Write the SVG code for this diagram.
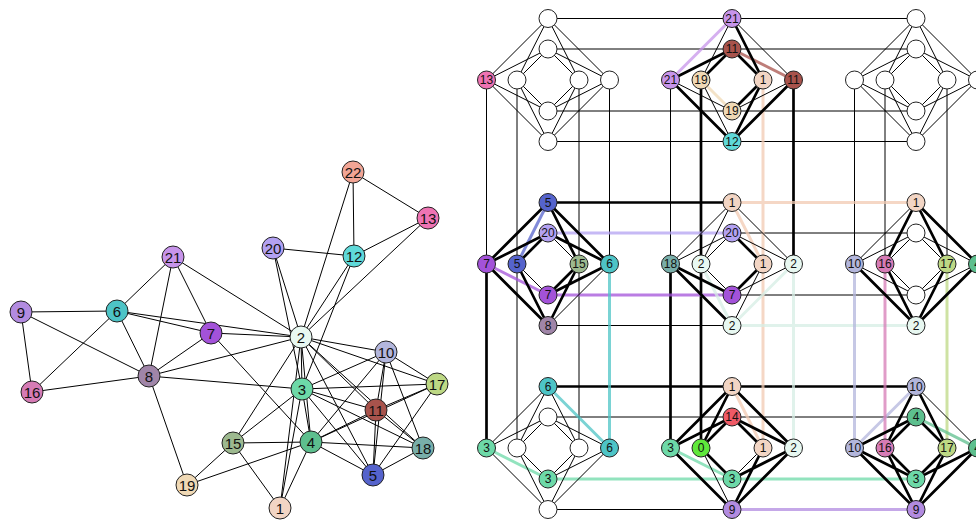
<svg xmlns="http://www.w3.org/2000/svg" width="976" height="521" viewBox="0 0 976 521">
<style>
.e{stroke:#000;stroke-width:1;fill:none}
.k{stroke:#000;stroke-width:2.7;fill:none}
.c{stroke-width:3;stroke-opacity:.75;fill:none}
.nd circle{stroke:#222;stroke-width:1}
.L text{font-family:"Liberation Sans",Arial,sans-serif;font-size:15px;text-anchor:middle;fill:#111}
.R text{font-family:"Liberation Sans",Arial,sans-serif;font-size:12px;text-anchor:middle;fill:#111}
</style>
<rect width="976" height="521" fill="#fff"/>
<g id="left-connectors" class="e">
<line x1="21" y1="312" x2="117" y2="311"/>
<line x1="21" y1="312" x2="32" y2="392"/>
<line x1="21" y1="312" x2="149" y2="376"/>
<line x1="117" y1="311" x2="173" y2="257"/>
<line x1="117" y1="311" x2="32" y2="392"/>
<line x1="117" y1="311" x2="149" y2="376"/>
<line x1="117" y1="311" x2="211" y2="333"/>
<line x1="117" y1="311" x2="301" y2="337"/>
<line x1="173" y1="257" x2="149" y2="376"/>
<line x1="173" y1="257" x2="211" y2="333"/>
<line x1="173" y1="257" x2="301" y2="337"/>
<line x1="211" y1="333" x2="149" y2="376"/>
<line x1="211" y1="333" x2="301" y2="337"/>
<line x1="211" y1="333" x2="311" y2="442"/>
<line x1="149" y1="376" x2="32" y2="392"/>
<line x1="149" y1="376" x2="301" y2="337"/>
<line x1="149" y1="376" x2="302" y2="389"/>
<line x1="149" y1="376" x2="187" y2="485"/>
<line x1="187" y1="485" x2="233" y2="443"/>
<line x1="187" y1="485" x2="311" y2="442"/>
<line x1="233" y1="443" x2="301" y2="337"/>
<line x1="233" y1="443" x2="302" y2="389"/>
<line x1="233" y1="443" x2="311" y2="442"/>
<line x1="233" y1="443" x2="280" y2="508"/>
<line x1="353" y1="172" x2="428" y2="218"/>
<line x1="353" y1="172" x2="354" y2="256"/>
<line x1="353" y1="172" x2="301" y2="337"/>
<line x1="428" y1="218" x2="354" y2="256"/>
<line x1="428" y1="218" x2="301" y2="337"/>
<line x1="273" y1="248" x2="354" y2="256"/>
<line x1="273" y1="248" x2="301" y2="337"/>
<line x1="273" y1="248" x2="302" y2="389"/>
<line x1="354" y1="256" x2="301" y2="337"/>
<line x1="354" y1="256" x2="302" y2="389"/>
<line x1="301" y1="337" x2="386" y2="352"/>
<line x1="301" y1="337" x2="437" y2="384"/>
<line x1="301" y1="337" x2="376" y2="410"/>
<line x1="301" y1="337" x2="423" y2="448"/>
<line x1="301" y1="337" x2="373" y2="475"/>
<line x1="301" y1="337" x2="302" y2="389"/>
<line x1="301" y1="337" x2="311" y2="442"/>
<line x1="301" y1="337" x2="280" y2="508"/>
<line x1="302" y1="389" x2="386" y2="352"/>
<line x1="302" y1="389" x2="437" y2="384"/>
<line x1="302" y1="389" x2="376" y2="410"/>
<line x1="302" y1="389" x2="423" y2="448"/>
<line x1="302" y1="389" x2="373" y2="475"/>
<line x1="302" y1="389" x2="311" y2="442"/>
<line x1="302" y1="389" x2="280" y2="508"/>
<line x1="311" y1="442" x2="386" y2="352"/>
<line x1="311" y1="442" x2="376" y2="410"/>
<line x1="311" y1="442" x2="437" y2="384"/>
<line x1="311" y1="442" x2="423" y2="448"/>
<line x1="311" y1="442" x2="373" y2="475"/>
<line x1="311" y1="442" x2="280" y2="508"/>
<line x1="386" y1="352" x2="376" y2="410"/>
<line x1="386" y1="352" x2="373" y2="475"/>
<line x1="386" y1="352" x2="437" y2="384"/>
<line x1="386" y1="352" x2="423" y2="448"/>
<line x1="376" y1="410" x2="437" y2="384"/>
<line x1="376" y1="410" x2="373" y2="475"/>
<line x1="376" y1="410" x2="423" y2="448"/>
<line x1="437" y1="384" x2="373" y2="475"/>
<line x1="423" y1="448" x2="373" y2="475"/>
</g>
<g id="left-nodes" class="nd L">
<g id="n9"><circle cx="21" cy="312" r="11" fill="#b28be0"/><text x="21" y="317.5">9</text></g>
<g id="n6"><circle cx="117" cy="311" r="11" fill="#4dc4c6"/><text x="117" y="316.5">6</text></g>
<g id="n21"><circle cx="173" cy="257" r="11" fill="#c794ea"/><text x="173" y="262.5">21</text></g>
<g id="n7"><circle cx="211" cy="333" r="11" fill="#a352d9"/><text x="211" y="338.5">7</text></g>
<g id="n8"><circle cx="149" cy="376" r="11" fill="#a085a8"/><text x="149" y="381.5">8</text></g>
<g id="n16"><circle cx="32" cy="392" r="11" fill="#d67bb5"/><text x="32" y="397.5">16</text></g>
<g id="n19"><circle cx="187" cy="485" r="11" fill="#f0d9b5"/><text x="187" y="490.5">19</text></g>
<g id="n15"><circle cx="233" cy="443" r="11" fill="#9db98f"/><text x="233" y="448.5">15</text></g>
<g id="n22"><circle cx="353" cy="172" r="11" fill="#f2a595"/><text x="353" y="177.5">22</text></g>
<g id="n13"><circle cx="428" cy="218" r="11" fill="#ef73b3"/><text x="428" y="223.5">13</text></g>
<g id="n20"><circle cx="273" cy="248" r="11" fill="#b3a1f2"/><text x="273" y="253.5">20</text></g>
<g id="n12"><circle cx="354" cy="256" r="11" fill="#5fd9d9"/><text x="354" y="261.5">12</text></g>
<g id="n2"><circle cx="301" cy="337" r="11" fill="#e8f8f1"/><text x="301" y="342.5">2</text></g>
<g id="n10"><circle cx="386" cy="352" r="11" fill="#b3b6dc"/><text x="386" y="357.5">10</text></g>
<g id="n17"><circle cx="437" cy="384" r="11" fill="#bdd884"/><text x="437" y="389.5">17</text></g>
<g id="n3"><circle cx="302" cy="389" r="11" fill="#6dd9a8"/><text x="302" y="394.5">3</text></g>
<g id="n11"><circle cx="376" cy="410" r="11" fill="#a8534c"/><text x="376" y="415.5">11</text></g>
<g id="n4"><circle cx="311" cy="442" r="11" fill="#5dbf8e"/><text x="311" y="447.5">4</text></g>
<g id="n18"><circle cx="423" cy="448" r="11" fill="#78aea9"/><text x="423" y="453.5">18</text></g>
<g id="n5"><circle cx="373" cy="475" r="11" fill="#5563cc"/><text x="373" y="480.5">5</text></g>
<g id="n1"><circle cx="280" cy="508" r="11" fill="#f2d5c4"/><text x="280" y="513.5">1</text></g>
</g>
<g id="right-connectors">
<path class="e" d="M548 18.5H916M548 49H916M548 111H916M548 141.5H916M732 233H916M732 295H916M548 325.5H732M548 417H916M548 509.5H732M486.5 80V264M517 80V448M579 80V448M609.5 80V264M670.5 80V264M854.5 80V264M885 80V264M947 80V264M977.5 80V264"/>
<path class="k" d="M548 202.5H732M548 386.5H916M486.5 264V448M670.5 264V448M701 80V448M793.5 80V264"/>
<path class="c" stroke="#f2c9b2" d="M732 202.5H916M763 80V448M732 202.5L763 264M732 386.5L763 448"/>
<path class="c" stroke="#b3a1f2" d="M548 233H732"/>
<path class="c" stroke="#a352d9" d="M548 295H732M548 295L486.5 264"/>
<path class="c" stroke="#d6eee4" d="M732 325.5H916M793.5 264V448M732 325.5L701 264M732 325.5L793.5 264"/>
<path class="c" stroke="#6dd9a8" d="M548 479H916M548 479L486.5 448M732 479L670.5 448"/>
<path class="c" stroke="#b28be0" d="M732 509.5H916"/>
<path class="c" stroke="#4dc4c6" d="M609.5 264V448M548 386.5L609.5 448"/>
<path class="c" stroke="#b3b6dc" d="M854.5 264V448M916 386.5L854.5 448"/>
<path class="c" stroke="#d67bb5" d="M885 264V448"/>
<path class="c" stroke="#bdd884" d="M947 264V448"/>
<path class="c" stroke="#5dbf8e" d="M977.5 264V448M916 417L977.5 448"/>
<path class="c" stroke="#c794ea" d="M732 18.5L670.5 80"/>
<path class="c" stroke="#a8534c" d="M732 49L793.5 80"/>
<path class="c" stroke="#f0d9b5" d="M732 111L701 80"/>
<path class="c" stroke="#5563cc" d="M548 202.5L517 264"/>
<path class="e" d="M486.5 80L548 18.5L609.5 80L548 141.5ZM517 80L548 49L579 80L548 111ZM486.5 80L548 49L609.5 80L548 111ZM517 80L548 18.5L579 80L548 141.5Z"/>
<path class="e" d="M854.5 80L916 18.5L977.5 80L916 141.5ZM885 80L916 49L947 80L916 111ZM854.5 80L916 49L977.5 80L916 111ZM885 80L916 18.5L947 80L916 141.5Z"/>
<path class="e" d="M732 18.5L701 80M732 18.5L793.5 80M732 111L670.5 80M732 111L793.5 80M732 141.5L701 80"/>
<path class="k" d="M732 18.5L763 80M732 49L670.5 80M732 49L701 80M732 49L763 80M732 111L763 80M732 141.5L670.5 80M732 141.5L763 80M732 141.5L793.5 80"/>
<path class="k" d="M548 202.5L486.5 264M548 202.5L579 264M548 202.5L609.5 264M548 233L486.5 264M548 233L517 264M548 233L609.5 264M548 295L579 264M548 295L609.5 264M548 325.5L486.5 264M548 325.5L517 264M548 325.5L579 264"/>
<path class="e" d="M548 233L579 264M548 295L517 264M548 325.5L609.5 264"/>
<path class="e" d="M732 202.5L670.5 264M732 202.5L701 264M732 202.5L793.5 264M732 233L670.5 264M732 233L701 264M732 233L793.5 264M732 295L701 264M732 295L793.5 264M732 325.5L763 264"/>
<path class="k" d="M732 233L763 264M732 295L670.5 264M732 295L763 264M732 325.5L670.5 264"/>
<path class="e" d="M916 202.5L854.5 264M854.5 264L916 233L977.5 264M885 264L916 233L947 264M854.5 264L916 295L977.5 264M885 264L916 295L947 264"/>
<path class="k" d="M916 202.5L885 264M916 202.5L947 264M916 202.5L977.5 264M854.5 264L916 325.5L977.5 264M885 264L916 325.5L947 264"/>
<path class="e" d="M548 386.5L486.5 448M548 386.5L517 448M548 386.5L579 448M486.5 448L548 417L609.5 448M517 448L548 417L579 448M517 448L548 479L609.5 448M548 479L579 448M486.5 448L548 509.5L609.5 448M517 448L548 509.5L579 448"/>
<path class="k" d="M732 386.5L670.5 448M732 386.5L701 448M732 386.5L793.5 448M670.5 448L732 417L793.5 448M701 448L732 417L763 448M732 479L701 448M732 479L793.5 448M670.5 448L732 509.5L793.5 448M732 509.5L763 448"/>
<path class="e" d="M732 479L763 448M732 509.5L701 448"/>
<path class="k" d="M916 386.5L885 448M916 386.5L947 448M854.5 448L916 417L947 448M916 417L885 448M854.5 448L916 479L977.5 448M885 448L916 479L947 448M854.5 448L916 509.5L977.5 448M885 448L916 509.5L947 448"/>
<path class="e" d="M916 386.5L977.5 448"/>
</g>
<g id="right-nodes" class="nd R">
<g id="u00-T1"><circle cx="548" cy="18.5" r="9" fill="#fff"/></g>
<g id="u00-T2"><circle cx="548" cy="49" r="9" fill="#fff"/></g>
<g id="u00-B2"><circle cx="548" cy="111" r="9" fill="#fff"/></g>
<g id="u00-B1"><circle cx="548" cy="141.5" r="9" fill="#fff"/></g>
<g id="u00-L1"><circle cx="486.5" cy="80" r="9" fill="#ef73b3"/><text x="486.5" y="84.3">13</text></g>
<g id="u00-L2"><circle cx="517" cy="80" r="9" fill="#fff"/></g>
<g id="u00-R2"><circle cx="579" cy="80" r="9" fill="#fff"/></g>
<g id="u00-R1"><circle cx="609.5" cy="80" r="9" fill="#fff"/></g>
<g id="u10-T1"><circle cx="732" cy="18.5" r="9" fill="#c794ea"/><text x="732" y="22.8">21</text></g>
<g id="u10-T2"><circle cx="732" cy="49" r="9" fill="#a8534c"/><text x="732" y="53.3">11</text></g>
<g id="u10-B2"><circle cx="732" cy="111" r="9" fill="#f0d9b5"/><text x="732" y="115.3">19</text></g>
<g id="u10-B1"><circle cx="732" cy="141.5" r="9" fill="#5fd9d9"/><text x="732" y="145.8">12</text></g>
<g id="u10-L1"><circle cx="670.5" cy="80" r="9" fill="#c794ea"/><text x="670.5" y="84.3">21</text></g>
<g id="u10-L2"><circle cx="701" cy="80" r="9" fill="#f0d9b5"/><text x="701" y="84.3">19</text></g>
<g id="u10-R2"><circle cx="763" cy="80" r="9" fill="#f2d5c4"/><text x="763" y="84.3">1</text></g>
<g id="u10-R1"><circle cx="793.5" cy="80" r="9" fill="#a8534c"/><text x="793.5" y="84.3">11</text></g>
<g id="u20-T1"><circle cx="916" cy="18.5" r="9" fill="#fff"/></g>
<g id="u20-T2"><circle cx="916" cy="49" r="9" fill="#fff"/></g>
<g id="u20-B2"><circle cx="916" cy="111" r="9" fill="#fff"/></g>
<g id="u20-B1"><circle cx="916" cy="141.5" r="9" fill="#fff"/></g>
<g id="u20-L1"><circle cx="854.5" cy="80" r="9" fill="#fff"/></g>
<g id="u20-L2"><circle cx="885" cy="80" r="9" fill="#fff"/></g>
<g id="u20-R2"><circle cx="947" cy="80" r="9" fill="#fff"/></g>
<g id="u20-R1"><circle cx="977.5" cy="80" r="9" fill="#fff"/></g>
<g id="u01-T1"><circle cx="548" cy="202.5" r="9" fill="#5563cc"/><text x="548" y="206.8">5</text></g>
<g id="u01-T2"><circle cx="548" cy="233" r="9" fill="#b3a1f2"/><text x="548" y="237.3">20</text></g>
<g id="u01-B2"><circle cx="548" cy="295" r="9" fill="#a352d9"/><text x="548" y="299.3">7</text></g>
<g id="u01-B1"><circle cx="548" cy="325.5" r="9" fill="#a085a8"/><text x="548" y="329.8">8</text></g>
<g id="u01-L1"><circle cx="486.5" cy="264" r="9" fill="#a352d9"/><text x="486.5" y="268.3">7</text></g>
<g id="u01-L2"><circle cx="517" cy="264" r="9" fill="#5563cc"/><text x="517" y="268.3">5</text></g>
<g id="u01-R2"><circle cx="579" cy="264" r="9" fill="#9db98f"/><text x="579" y="268.3">15</text></g>
<g id="u01-R1"><circle cx="609.5" cy="264" r="9" fill="#4dc4c6"/><text x="609.5" y="268.3">6</text></g>
<g id="u11-T1"><circle cx="732" cy="202.5" r="9" fill="#f2d5c4"/><text x="732" y="206.8">1</text></g>
<g id="u11-T2"><circle cx="732" cy="233" r="9" fill="#b3a1f2"/><text x="732" y="237.3">20</text></g>
<g id="u11-B2"><circle cx="732" cy="295" r="9" fill="#a352d9"/><text x="732" y="299.3">7</text></g>
<g id="u11-B1"><circle cx="732" cy="325.5" r="9" fill="#e8f8f1"/><text x="732" y="329.8">2</text></g>
<g id="u11-L1"><circle cx="670.5" cy="264" r="9" fill="#78aea9"/><text x="670.5" y="268.3">18</text></g>
<g id="u11-L2"><circle cx="701" cy="264" r="9" fill="#e8f8f1"/><text x="701" y="268.3">2</text></g>
<g id="u11-R2"><circle cx="763" cy="264" r="9" fill="#f2d5c4"/><text x="763" y="268.3">1</text></g>
<g id="u11-R1"><circle cx="793.5" cy="264" r="9" fill="#e8f8f1"/><text x="793.5" y="268.3">2</text></g>
<g id="u21-T1"><circle cx="916" cy="202.5" r="9" fill="#f2d5c4"/><text x="916" y="206.8">1</text></g>
<g id="u21-T2"><circle cx="916" cy="233" r="9" fill="#fff"/></g>
<g id="u21-B2"><circle cx="916" cy="295" r="9" fill="#fff"/></g>
<g id="u21-B1"><circle cx="916" cy="325.5" r="9" fill="#e8f8f1"/><text x="916" y="329.8">2</text></g>
<g id="u21-L1"><circle cx="854.5" cy="264" r="9" fill="#b3b6dc"/><text x="854.5" y="268.3">10</text></g>
<g id="u21-L2"><circle cx="885" cy="264" r="9" fill="#d67bb5"/><text x="885" y="268.3">16</text></g>
<g id="u21-R2"><circle cx="947" cy="264" r="9" fill="#bdd884"/><text x="947" y="268.3">17</text></g>
<g id="u21-R1"><circle cx="977.5" cy="264" r="9" fill="#5dbf8e"/><text x="977.5" y="268.3">4</text></g>
<g id="u02-T1"><circle cx="548" cy="386.5" r="9" fill="#4dc4c6"/><text x="548" y="390.8">6</text></g>
<g id="u02-T2"><circle cx="548" cy="417" r="9" fill="#fff"/></g>
<g id="u02-B2"><circle cx="548" cy="479" r="9" fill="#6dd9a8"/><text x="548" y="483.3">3</text></g>
<g id="u02-B1"><circle cx="548" cy="509.5" r="9" fill="#fff"/></g>
<g id="u02-L1"><circle cx="486.5" cy="448" r="9" fill="#6dd9a8"/><text x="486.5" y="452.3">3</text></g>
<g id="u02-L2"><circle cx="517" cy="448" r="9" fill="#fff"/></g>
<g id="u02-R2"><circle cx="579" cy="448" r="9" fill="#fff"/></g>
<g id="u02-R1"><circle cx="609.5" cy="448" r="9" fill="#4dc4c6"/><text x="609.5" y="452.3">6</text></g>
<g id="u12-T1"><circle cx="732" cy="386.5" r="9" fill="#f2d5c4"/><text x="732" y="390.8">1</text></g>
<g id="u12-T2"><circle cx="732" cy="417" r="9" fill="#ef5a66"/><text x="732" y="421.3">14</text></g>
<g id="u12-B2"><circle cx="732" cy="479" r="9" fill="#6dd9a8"/><text x="732" y="483.3">3</text></g>
<g id="u12-B1"><circle cx="732" cy="509.5" r="9" fill="#b28be0"/><text x="732" y="513.8">9</text></g>
<g id="u12-L1"><circle cx="670.5" cy="448" r="9" fill="#6dd9a8"/><text x="670.5" y="452.3">3</text></g>
<g id="u12-L2"><circle cx="701" cy="448" r="9" fill="#5fe83b"/><text x="701" y="452.3">0</text></g>
<g id="u12-R2"><circle cx="763" cy="448" r="9" fill="#f2d5c4"/><text x="763" y="452.3">1</text></g>
<g id="u12-R1"><circle cx="793.5" cy="448" r="9" fill="#e8f8f1"/><text x="793.5" y="452.3">2</text></g>
<g id="u22-T1"><circle cx="916" cy="386.5" r="9" fill="#b3b6dc"/><text x="916" y="390.8">10</text></g>
<g id="u22-T2"><circle cx="916" cy="417" r="9" fill="#5dbf8e"/><text x="916" y="421.3">4</text></g>
<g id="u22-B2"><circle cx="916" cy="479" r="9" fill="#6dd9a8"/><text x="916" y="483.3">3</text></g>
<g id="u22-B1"><circle cx="916" cy="509.5" r="9" fill="#b28be0"/><text x="916" y="513.8">9</text></g>
<g id="u22-L1"><circle cx="854.5" cy="448" r="9" fill="#b3b6dc"/><text x="854.5" y="452.3">10</text></g>
<g id="u22-L2"><circle cx="885" cy="448" r="9" fill="#d67bb5"/><text x="885" y="452.3">16</text></g>
<g id="u22-R2"><circle cx="947" cy="448" r="9" fill="#bdd884"/><text x="947" y="452.3">17</text></g>
<g id="u22-R1"><circle cx="977.5" cy="448" r="9" fill="#5dbf8e"/><text x="977.5" y="452.3">4</text></g>
</g>
</svg>
